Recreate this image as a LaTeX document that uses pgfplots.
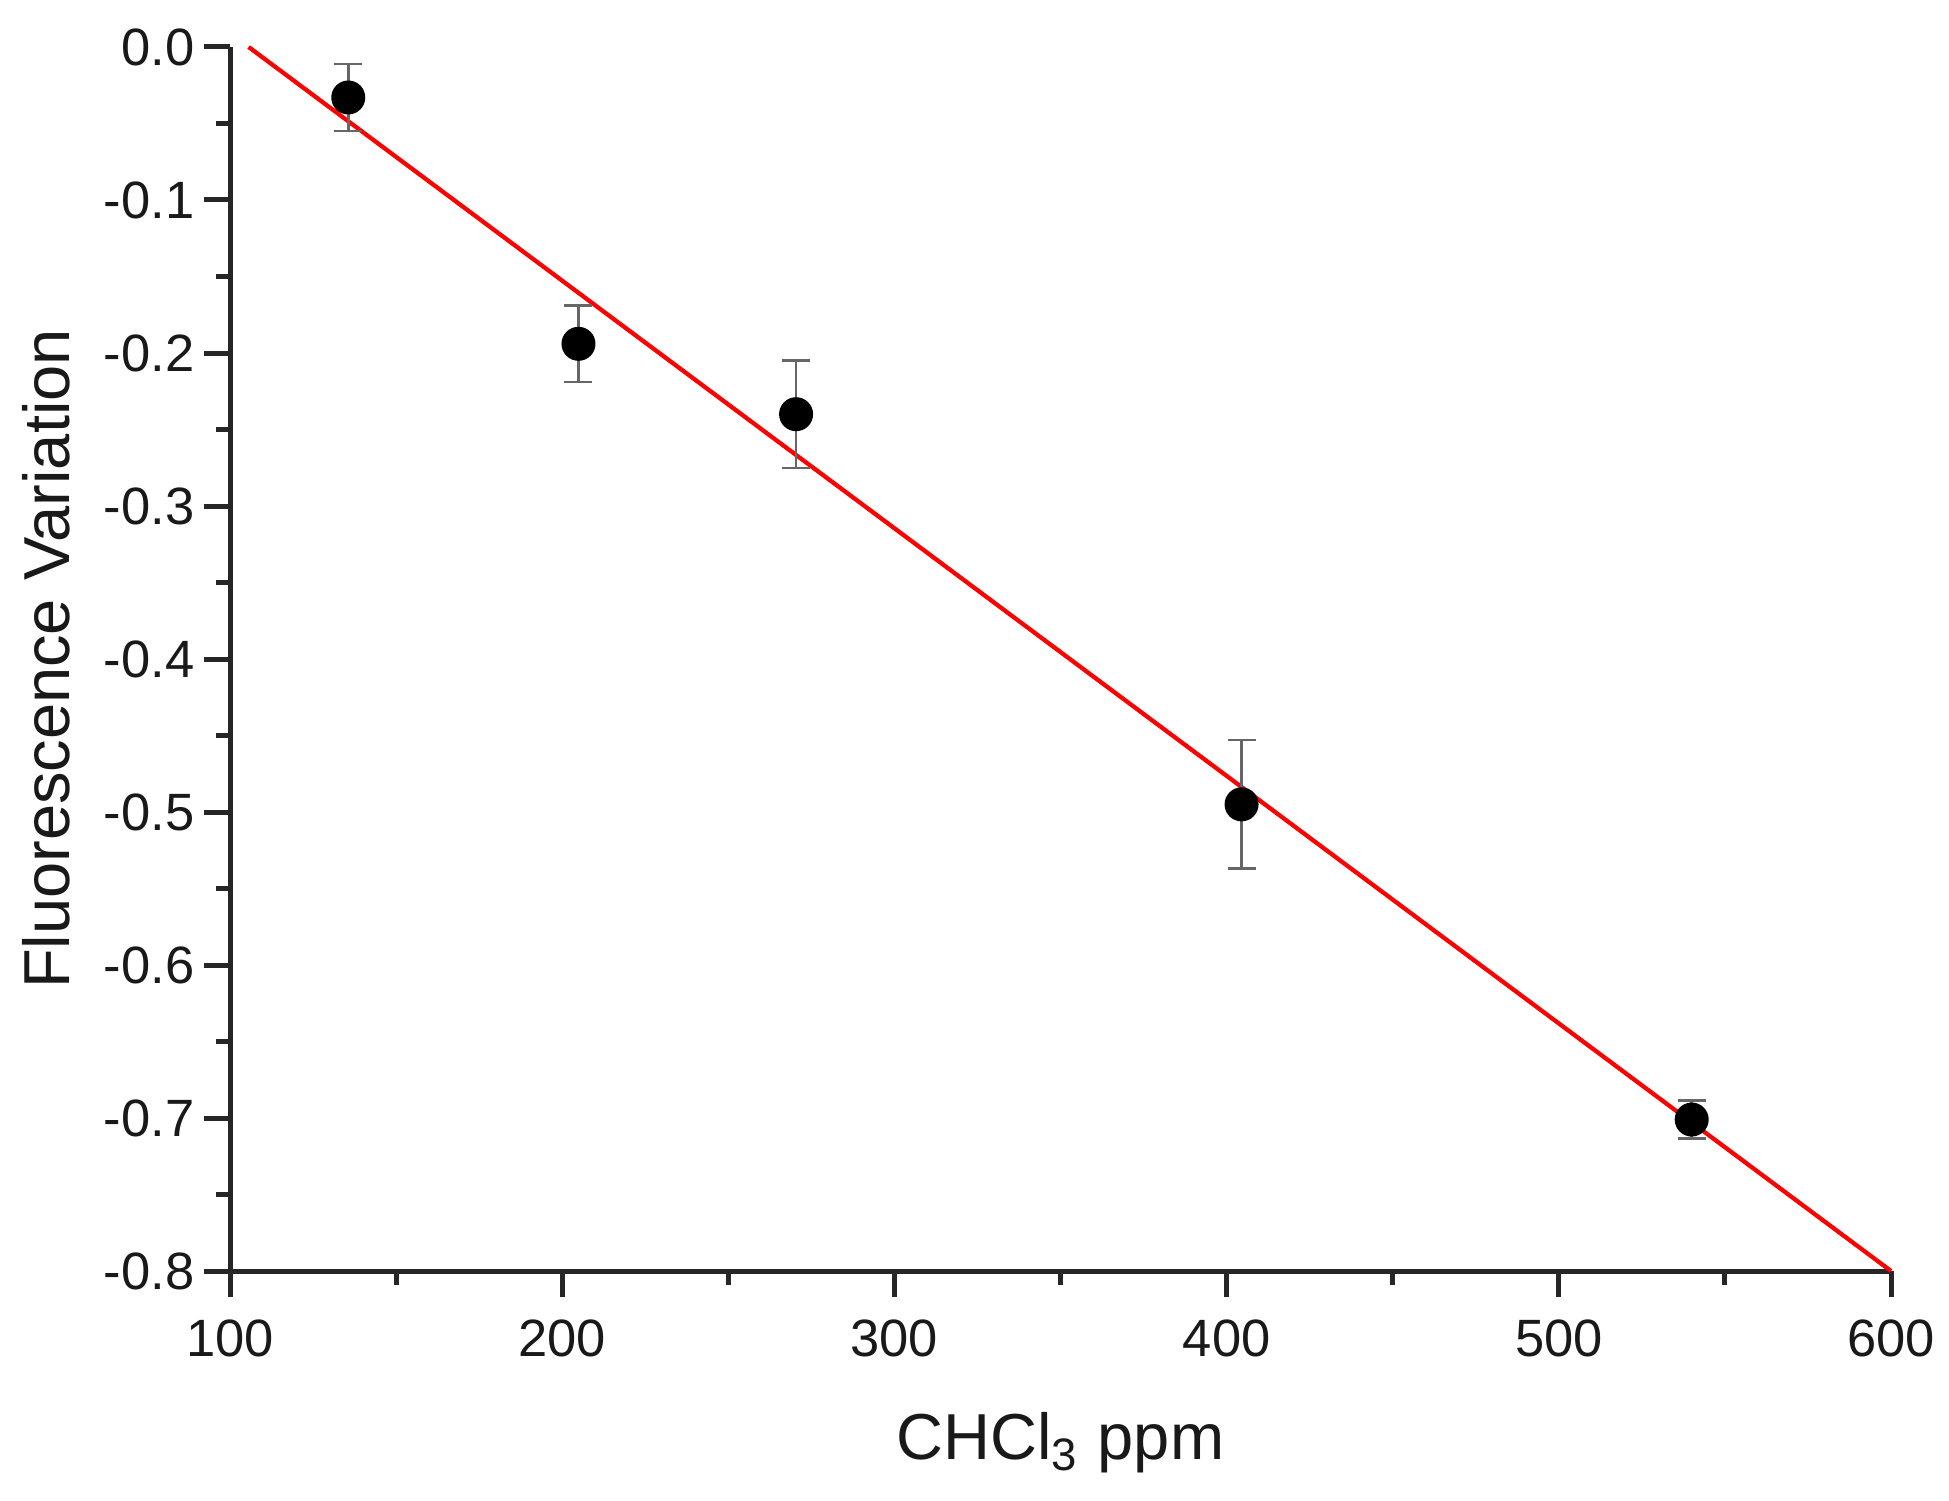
\documentclass[border=0pt]{standalone}
\usepackage{fontspec}
\setmainfont{Liberation Sans}
\usepackage{pgfplots}
\pgfplotsset{compat=1.18}
\begin{document}
\begin{tikzpicture}
\path[use as bounding box] (-46pt,-45.8pt) rectangle (343.8pt,254.2pt);
\begin{axis}[
  at={(0,0)}, anchor=south west,
  width=332.2pt, height=244.8pt, scale only axis,
  xmin=100, xmax=600, ymin=-0.8, ymax=0,
  clip=false,
  axis lines*=left,
  axis line style={line width=1pt, color=black!85},
  tick align=outside,
  major tick length=5.2pt, minor tick length=2.8pt,
  every tick/.style={line width=1pt, black!85},
  xtick={100,200,300,400,500,600},
  ytick={-0.8,-0.7,-0.6,-0.5,-0.4,-0.3,-0.2,-0.1,0},
  minor x tick num=1, minor y tick num=1,
  /pgf/number format/assume math mode=true,
  tick label style={font=\fontsize{10.5}{12}\selectfont, text=black!90},
  yticklabel style={xshift=1.6pt, /pgf/number format/.cd, fixed, fixed zerofill, precision=1},
  xticklabel style={yshift=-1pt, /pgf/number format/.cd, fixed, precision=0, 1000 sep={}},
  xlabel={CHCl\textsubscript{3} ppm},
  ylabel={Fluorescence Variation},
  label style={font=\fontsize{13}{15}\selectfont, text=black!90},
  xlabel style={at={(axis description cs:0.5,0)}, anchor=base, yshift=-37.6pt},
  ylabel style={at={(axis description cs:0,0.5)}, anchor=center, yshift=36.8pt},
]
\addplot[red, line width=0.85pt] coordinates {(105.6,0) (600,-0.8)};
\addplot[only marks, mark=*, mark size=3.2pt, black,
  error bars/.cd, y dir=both, y explicit,
  error bar style={line width=0.5pt, black!60},
  error mark options={rotate=90, mark size=2.8pt, line width=0.5pt, black!60}]
  table[x=x, y=y, y error=e] {
x y e
135.6 -0.033 0.022
204.9 -0.194 0.025
270.4 -0.240 0.035
404.5 -0.495 0.042
540.0 -0.701 0.0125
};
\end{axis}
\end{tikzpicture}
\end{document}
